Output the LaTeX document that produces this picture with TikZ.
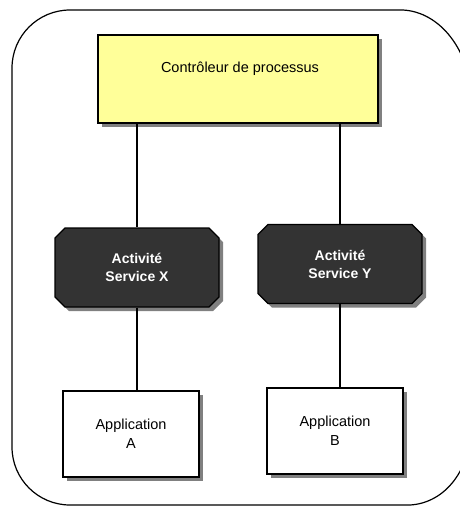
\documentclass[tikz,border=0pt]{standalone}
\usepackage{fontspec}
\setmainfont{Liberation Sans}
\usetikzlibrary{shapes.misc,shadows}
\definecolor{ctrlyellow}{HTML}{FFFF99}
\definecolor{svcdark}{HTML}{333333}
\definecolor{shadowgray}{HTML}{808080}
\begin{document}
\begin{tikzpicture}[x=1pt,y=-1pt,
  shd/.style={drop shadow={shadow xshift=4pt,shadow yshift=-4pt,fill=shadowgray,opacity=1}},
  ctrlbox/.style={draw=black,line width=1.3pt,fill=ctrlyellow,shd,minimum width=280pt,minimum height=88pt,inner sep=0pt},
  svcbox/.style={chamfered rectangle,chamfered rectangle xsep=5pt,chamfered rectangle ysep=5pt,draw=black,line width=1.3pt,fill=svcdark,shd,minimum width=164pt,minimum height=79pt,inner sep=0pt,text=white,font=\fontsize{14}{18}\selectfont\bfseries,align=center},
  appbox/.style={draw=black,line width=1.3pt,fill=white,shd,minimum width=136pt,minimum height=86pt,inner sep=0pt,font=\fontsize{14.5}{19}\selectfont,align=center},
  txt/.style={font=\fontsize{14.5}{19}\selectfont,inner sep=0pt,align=center},
  conn/.style={draw=black,line width=1.1pt}]
\path[use as bounding box] (0,0) rectangle (460,506);
\begin{scope}
\clip (0,0) rectangle (460,506);
\draw[line width=1.2pt] (200,10) -- (403,10) .. controls (440,12) and (470,50) .. (472,100)
  -- (472,420) .. controls (472,470) and (445,503) .. (410,505)
  -- (70,505) .. controls (38,505) and (12,479) .. (12,447)
  -- (12,68) .. controls (12,36) and (38,10) .. (70,10) -- cycle;
\end{scope}
\node[ctrlbox] (ctrl) at (238,79) {};
\node[txt] (ctrltext) at (240,69) {Contrôleur de processus};
\node[svcbox] (svcX) at (137,267.5) {Activité\\Service X};
\node[svcbox] (svcY) at (340,264) {Activité\\Service Y};
\node[appbox] (appA) at (131,434) {Application\\A};
\node[appbox] (appB) at (335,431) {Application\\B};
\draw[conn] (svcX.north) -- (svcX.north |- ctrl.south);
\draw[conn] (svcY.north) -- (svcY.north |- ctrl.south);
\draw[conn] (svcX.south) -- (svcX.south |- appA.north);
\draw[conn] (svcY.south) -- (svcY.south |- appB.north);
\end{tikzpicture}
\end{document}
